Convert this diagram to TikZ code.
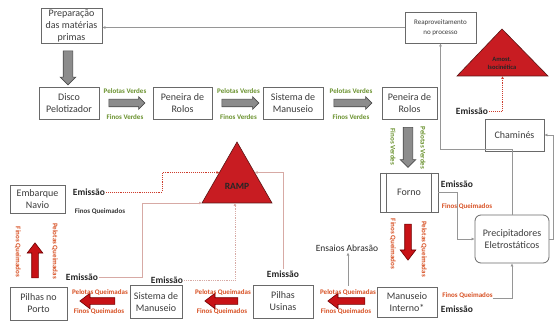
\documentclass[tikz,border=0pt]{standalone}
\usepackage{fontspec}
\setmainfont{Carlito}
\usetikzlibrary{shapes.arrows,arrows.meta,calc}
\definecolor{boxline}{RGB}{105,105,105}
\definecolor{boxtext}{RGB}{60,60,60}
\definecolor{gfill}{RGB}{140,140,140}
\definecolor{gline}{RGB}{75,75,75}
\definecolor{rfill}{RGB}{200,18,22}
\definecolor{rline}{RGB}{110,0,0}
\definecolor{tgreen}{RGB}{105,145,45}
\definecolor{tred}{RGB}{215,80,35}
\definecolor{trifill}{RGB}{200,28,34}
\definecolor{trline}{RGB}{90,20,20}
\definecolor{connc}{RGB}{150,150,150}
\definecolor{pinkc}{RGB}{215,170,165}
\definecolor{dotc}{RGB}{205,60,45}
\begin{document}
\begin{tikzpicture}[x=1pt,y=-1pt,
  box/.style={draw=boxline, line width=0.8pt, fill=white, align=center, inner sep=0pt,
    text=boxtext, font=\fontsize{10}{12}\selectfont},
  garrow/.style={single arrow, draw=gline, fill=gfill, line width=0.6pt, inner xsep=0pt,
    inner ysep=3.5pt, minimum width=12pt, single arrow head extend=2.5pt, single arrow tip angle=90},
  gvarrow/.style={garrow, inner ysep=4.5pt, minimum width=15pt, single arrow head extend=3pt},
  rarrow/.style={single arrow, draw=rline, fill=rfill, line width=0.6pt, inner xsep=0pt,
    inner ysep=3pt, minimum width=15pt, single arrow head extend=4.5pt, single arrow tip angle=75},
  lbl/.style={font=\bfseries\fontsize{7}{8}\selectfont, inner sep=0pt},
  lg/.style={lbl, text=tgreen},
  lr/.style={lbl, text=tred},
  em/.style={font=\bfseries\fontsize{9.5}{11}\selectfont, text=black!85, inner sep=1pt},
  tri/.style={fill=trifill, draw=trline, line width=0.6pt},
  tritxt/.style={font=\bfseries, text=black!85, align=center, inner sep=0pt},
  conn/.style={draw=connc, line width=0.8pt, -{Latex[length=3pt,width=3pt]}},
  pconn/.style={draw=pinkc, line width=0.8pt, -{Latex[length=3pt,width=3pt]}},
  dconn/.style={draw=dotc, line width=0.9pt, densely dotted, -{Latex[length=3pt,width=3pt]}}
]
\useasboundingbox (0,0) rectangle (554,323);

% boxes
\node[box, minimum width=61pt, minimum height=35pt] (prep) at (71.5,25.5) {Preparação\\das matérias\\primas};
\node[box, minimum width=71pt, minimum height=31pt, font=\fontsize{7}{10}\selectfont] (reap) at (440.5,27.5) {Reaproveitamento\\no processo};
\node[box, minimum width=60pt, minimum height=32pt] (disco) at (69,103) {Disco\\Pelotizador};
\node[box, minimum width=59pt, minimum height=32pt] (pen1) at (182.5,103) {Peneira de\\Rolos};
\node[box, minimum width=60pt, minimum height=32pt] (sis1) at (293,103) {Sistema de\\Manuseio};
\node[box, minimum width=55pt, minimum height=32pt] (pen2) at (409.5,103) {Peneira de\\Rolos};
\node[box, minimum width=58pt, minimum height=39pt] (forno) at (409,192.5) {Forno};
\draw[draw=boxline, line width=0.8pt] ([xshift=7pt]forno.north west) -- ([xshift=7pt]forno.south west);
\draw[draw=boxline, line width=0.8pt] ([xshift=-7pt]forno.north east) -- ([xshift=-7pt]forno.south east);
\node[box, minimum width=60pt, minimum height=30pt] (manint) at (407,302) {Manuseio\\Interno*};
\node[box, minimum width=60pt, minimum height=33pt] (usinas) at (283,301.5) {Pilhas\\Usinas};
\node[box, minimum width=52pt, minimum height=33pt] (sis2) at (156,302) {Sistema de\\Manuseio};
\node[box, minimum width=57pt, minimum height=33pt] (porto) at (38.5,303.5) {Pilhas no\\Porto};
\node[box, minimum width=55pt, minimum height=28pt] (emb) at (37.5,199) {Embarque\\Navio};
\node[box, minimum width=59pt, minimum height=32pt] (cham) at (514.5,135) {Chaminés};
\node[box, rounded corners=6pt, minimum width=74pt, minimum height=48pt] (prec) at (512,239) {Precipitadores\\Eletrostáticos};

% triangles
\coordinate (rA) at (237,142); \coordinate (rL) at (202,203); \coordinate (rR) at (272,203);
\path[tri] (rA) -- (rL) -- (rR) -- cycle;
\node[tritxt, font=\bfseries\fontsize{9.5}{11}\selectfont] (ramp) at (237,186) {RAMP};
\coordinate (aA) at (502,29); \coordinate (aL) at (457,76); \coordinate (aR) at (548,76);
\path[tri] (aA) -- (aL) -- (aR) -- cycle;
\node[tritxt, font=\bfseries\fontsize{6.5}{8}\selectfont] (amost) at (502,63) {Amost.\\Isocinética};

% block arrows
\node[garrow, minimum height=36pt] (g1) at (125,103) {};
\node[garrow, minimum height=37pt] (g2) at (238.5,103) {};
\node[garrow, minimum height=38pt] (g3) at (351,103) {};
\node[gvarrow, minimum height=34pt, rotate=-90] (g4) at (68,65.5) {};
\node[gvarrow, minimum height=40pt, rotate=-90] (g5) at (408,145) {};
\node[rarrow, minimum height=36pt, rotate=-90] (r1) at (408,240) {};
\node[rarrow, minimum height=37pt, rotate=180] (r2) at (348.5,301) {};
\node[rarrow, minimum height=33pt, rotate=180] (r3) at (223.5,301) {};
\node[rarrow, minimum height=35pt, rotate=180] (r4) at (99.5,301) {};
\node[rarrow, minimum height=35pt, rotate=90] (r5) at (35,262.5) {};

% flow labels
\node[lg] (pv1) at (125,91) {Pelotas Verdes}; \node[lg] (fv1) at (125,117) {Finos Verdes};
\node[lg] (pv2) at (238.5,91) {Pelotas Verdes}; \node[lg] (fv2) at (238.5,117) {Finos Verdes};
\node[lg] (pv3) at (351,91) {Pelotas Verdes}; \node[lg] (fv3) at (351,117) {Finos Verdes};
\node[lg, rotate=-90] (fv4) at (393,147) {Finos Verdes};
\node[lg, rotate=-90] (pv4) at (423,148) {Pelotas Verdes};
\node[lr, rotate=-90] (fq1) at (393,244) {Finos Queimados};
\node[lr, rotate=-90] (pq1) at (424,249) {Pelotas Queimadas};
\node[lr] (pqm) at (348,292) {Pelotas Queimadas}; \node[lr] (fq2) at (346,311) {Finos Queimados};
\node[lr] (pq3) at (223,292) {Pelotas Queimadas}; \node[lr] (fq3) at (222,311) {Finos Queimados};
\node[lr] (pq4) at (100,292) {Pelotas Queimadas}; \node[lr] (fq4) at (99,311) {Finos Queimados};
\node[lr, rotate=-90] (fq5) at (18,252) {Finos Queimados};
\node[lr, rotate=-90] (pq5) at (55,251) {Pelotas Queimadas};
\node[em] (eFo) at (457,184) {Emissão}; \node[lr] (fqF) at (467,206) {Finos Queimados};
\node[lr] (fqm) at (467.5,295) {Finos Queimados}; \node[em] (eMi) at (457,309) {Emissão};
\node[em] (eEmb) at (89,192) {Emissão};
\node[lbl, text=black!80] (fqE) at (100,211) {Finos Queimados};
\node[em] (ePorto) at (82,277) {Emissão};
\node[em] (eSis) at (167,280) {Emissão};
\node[em] (eUs) at (283,274) {Emissão};
\node[em] (eCh) at (472,111) {Emissão};
\node[font=\fontsize{9.5}{11}\selectfont, text=black!85, inner sep=1pt] (ens) at (347,248) {Ensaios Abrasão};

% connectors
\draw[conn] (reap.west) -- (reap.west -| prep.east);
\draw[conn] (prec.north) -- ++(0,-65) -| (reap.south);
\draw[conn] (prec.east) -- ++(4,0) |- (cham.east);
\draw[conn] (forno.east) -- ++(19,0) |- (prec.west);
\draw[conn] (fqm.south east) -| (prec.south);
\draw[conn] ([yshift=3pt]pqm.north) -- (pqm.north |- ens.south);
\draw[dconn] (eEmb.east) -- ++(56,0) |- ($(rA)!0.5!(rL)$);
\draw[pconn] (ePorto.east) -- ++(43,0) |- (rL);
\draw[pconn, densely dotted] (eSis.east) -| ($(rL)!0.471!(rR)$);
\draw[pconn] (eUs.north) |- ($(rA)!0.5!(rR)$);
\draw[dconn] (eCh.east) -| ($(aL)!0.5!(aR)$);
\end{tikzpicture}
\end{document}
